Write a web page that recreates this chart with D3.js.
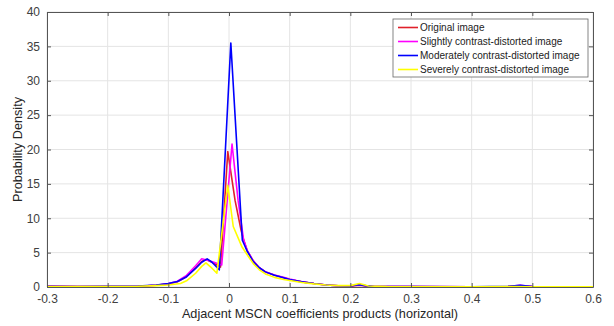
<!DOCTYPE html>
<html>
<head>
<meta charset="utf-8">
<script src="https://cdn.jsdelivr.net/npm/d3@7"></script>
<style>
  body { margin: 0; background: #fff; }
  svg { font-family: "Liberation Sans", Arial, sans-serif; }
</style>
</head>
<body>
<script>
// series names and colours (legend order)
var seriesNames = ['Original image', 'Slightly contrast-distorted image',
                   'Moderately contrast-distorted image', 'Severely contrast-distorted image'];
var seriesColors = ['#e0202a', '#ff00ff', '#0000ff', '#ffff00'];

// [x, density] points
var original = [
  [-0.3, 0.1], [-0.25, 0.05], [-0.2, 0.08], [-0.15, 0.12], [-0.12, 0.25], [-0.1, 0.45],
  [-0.085, 0.75], [-0.07, 1.5], [-0.055, 2.8], [-0.045, 3.7], [-0.038, 4.0], [-0.028, 3.6],
  [-0.014, 2.9], [-0.002, 19.7], [0.01, 12.6], [0.02, 8.2], [0.025, 6.6], [0.03, 5.3],
  [0.04, 3.8], [0.05, 2.8], [0.06, 2.2], [0.075, 1.7], [0.09, 1.35], [0.1, 1.1],
  [0.12, 0.75], [0.14, 0.5], [0.16, 0.3], [0.18, 0.18], [0.2, 0.12], [0.215, 0.25],
  [0.23, 0.1], [0.26, 0.05], [0.3, 0.05], [0.4, 0.04], [0.46, 0.06], [0.48, 0.15],
  [0.5, 0.05], [0.55, 0.03], [0.6, 0.03]
];
var slight = [
  [-0.3, 0.15], [-0.25, 0.05], [-0.2, 0.08], [-0.15, 0.12], [-0.12, 0.25], [-0.1, 0.5],
  [-0.085, 0.85], [-0.07, 1.7], [-0.055, 3.1], [-0.045, 4.1], [-0.035, 3.9], [-0.025, 3.6],
  [-0.012, 3.2], [0.005, 20.8], [0.015, 12.6], [0.024, 6.9], [0.03, 5.3], [0.04, 3.8],
  [0.05, 2.8], [0.06, 2.2], [0.075, 1.75], [0.09, 1.4], [0.1, 1.15], [0.12, 0.75],
  [0.14, 0.5], [0.16, 0.3], [0.18, 0.18], [0.2, 0.15], [0.212, 0.35], [0.225, 0.2],
  [0.24, 0.08], [0.3, 0.05], [0.4, 0.04], [0.46, 0.08], [0.48, 0.25], [0.5, 0.06],
  [0.55, 0.03], [0.6, 0.03]
];
var moderate = [
  [-0.3, 0.1], [-0.25, 0.05], [-0.2, 0.1], [-0.15, 0.15], [-0.12, 0.3], [-0.1, 0.5],
  [-0.085, 0.8], [-0.07, 1.5], [-0.055, 2.7], [-0.045, 3.6], [-0.036, 4.1], [-0.028, 3.6],
  [-0.016, 2.5], [0.003, 35.5], [0.022, 6.8], [0.03, 5.2], [0.04, 3.7], [0.05, 2.8],
  [0.06, 2.2], [0.075, 1.7], [0.09, 1.35], [0.1, 1.1], [0.12, 0.75], [0.14, 0.5],
  [0.16, 0.3], [0.18, 0.18], [0.2, 0.15], [0.21, 0.3], [0.215, 0.35], [0.225, 0.2],
  [0.24, 0.08], [0.3, 0.05], [0.4, 0.04], [0.46, 0.1], [0.48, 0.25], [0.5, 0.08],
  [0.55, 0.03], [0.6, 0.03]
];
var severe = [
  [-0.3, 0.05], [-0.25, 0.05], [-0.2, 0.06], [-0.15, 0.1], [-0.12, 0.2], [-0.1, 0.3],
  [-0.08, 0.5], [-0.07, 0.9], [-0.055, 2.0], [-0.045, 3.0], [-0.038, 3.5], [-0.03, 2.9],
  [-0.02, 2.0], [-0.002, 14.8], [0.007, 8.8], [0.021, 5.9], [0.03, 4.7], [0.04, 3.4],
  [0.05, 2.5], [0.06, 1.9], [0.075, 1.4], [0.09, 1.1], [0.1, 0.95], [0.12, 0.65],
  [0.14, 0.45], [0.16, 0.3], [0.18, 0.2], [0.2, 0.2], [0.215, 0.5], [0.23, 0.15],
  [0.26, 0.05], [0.3, 0.04], [0.4, 0.04], [0.47, 0.05], [0.5, 0.04], [0.55, 0.03],
  [0.6, 0.03]
];
var allSeries = [original, slight, moderate, severe];

var xTicks = [-0.3, -0.2, -0.1, 0, 0.1, 0.2, 0.3, 0.4, 0.5, 0.6];
var yTicks = [0, 5, 10, 15, 20, 25, 30, 35, 40];

var width  = 614,
    height = 326;
var plotLeft = 47, plotRight = 593, plotTop = 12, plotBottom = 287;

var svg = d3.select('body').append('svg')
    .attr('width', width)
    .attr('height', height);

var x = d3.scaleLinear().domain([-0.3, 0.6]).range([plotLeft, plotRight]);
var y = d3.scaleLinear().domain([0, 40]).range([plotBottom, plotTop]);

// grid
svg.append('g').selectAll('line').data(xTicks).enter().append('line')
    .attr('x1', function(d) {return x(d);}).attr('x2', function(d) {return x(d);})
    .attr('y1', plotTop).attr('y2', plotBottom)
    .attr('stroke', '#e4e4e4').attr('stroke-width', 1);
svg.append('g').selectAll('line').data(yTicks).enter().append('line')
    .attr('y1', function(d) {return y(d);}).attr('y2', function(d) {return y(d);})
    .attr('x1', plotLeft).attr('x2', plotRight)
    .attr('stroke', '#e4e4e4').attr('stroke-width', 1);

// curves
var line = d3.line()
    .x(function(d) {return x(d[0]);})
    .y(function(d) {return y(d[1]);});

svg.append('g').selectAll('path').data(allSeries).enter().append('path')
    .attr('d', line)
    .attr('fill', 'none')
    .attr('stroke', function(d, i) {return seriesColors[i];})
    .attr('stroke-width', 1.6)
    .attr('stroke-linejoin', 'round');

// axes (matlab style box, inward ticks)
var axisColor = '#555';
var fmt = function(d) {return d === 0 ? '0' : String(d);};

var xAxis = svg.append('g')
    .attr('transform', 'translate(0,' + plotBottom + ')')
    .call(d3.axisBottom(x).tickValues(xTicks).tickSizeInner(-4).tickSizeOuter(0)
      .tickPadding(7).tickFormat(fmt));
var yAxis = svg.append('g')
    .attr('transform', 'translate(' + plotLeft + ',0)')
    .call(d3.axisLeft(y).tickValues(yTicks).tickSizeInner(-4).tickSizeOuter(0)
      .tickPadding(7));
var xTop = svg.append('g')
    .attr('transform', 'translate(0,' + plotTop + ')')
    .call(d3.axisTop(x).tickValues(xTicks).tickSizeInner(-4).tickSizeOuter(0)
      .tickFormat(''));
var yRight = svg.append('g')
    .attr('transform', 'translate(' + plotRight + ',0)')
    .call(d3.axisRight(y).tickValues(yTicks).tickSizeInner(-4).tickSizeOuter(0)
      .tickFormat(''));

[xAxis, yAxis, xTop, yRight].forEach(function(g) {
  g.selectAll('path').attr('stroke', axisColor);
  g.selectAll('line').attr('stroke', axisColor);
  g.selectAll('text')
      .attr('fill', '#404040')
      .style('font-size', '12px')
      .style('font-family', '"Liberation Sans", Arial, sans-serif');
});

// axis labels
svg.append('text')
    .attr('x', (plotLeft + plotRight) / 2)
    .attr('y', 318)
    .attr('text-anchor', 'middle')
    .attr('fill', '#262626')
    .style('font-size', '12.7px')
    .text('Adjacent MSCN coefficients products (horizontal)');

svg.append('text')
    .attr('transform', 'translate(22,' + ((plotTop + plotBottom) / 2) + ') rotate(-90)')
    .attr('text-anchor', 'middle')
    .attr('fill', '#262626')
    .style('font-size', '12.7px')
    .text('Probability Density');

// legend
var legend = svg.append('g').attr('transform', 'translate(393,19)');
legend.append('rect')
    .attr('width', 195).attr('height', 58)
    .attr('fill', '#fff')
    .attr('stroke', '#666').attr('stroke-width', 0.8);

var entries = legend.selectAll('g.entry').data(seriesNames).enter().append('g')
    .attr('class', 'entry')
    .attr('transform', function(d, i) {return 'translate(0,' + (8.5 + i * 14) + ')';});
entries.append('line')
    .attr('x1', 5).attr('x2', 25)
    .attr('stroke', function(d, i) {return seriesColors[i];})
    .attr('stroke-width', 1.6);
entries.append('text')
    .attr('x', 27).attr('y', 3.5)
    .attr('fill', '#222')
    .style('font-size', '10px')
    .text(function(d) {return d;});
</script>
</body>
</html>
